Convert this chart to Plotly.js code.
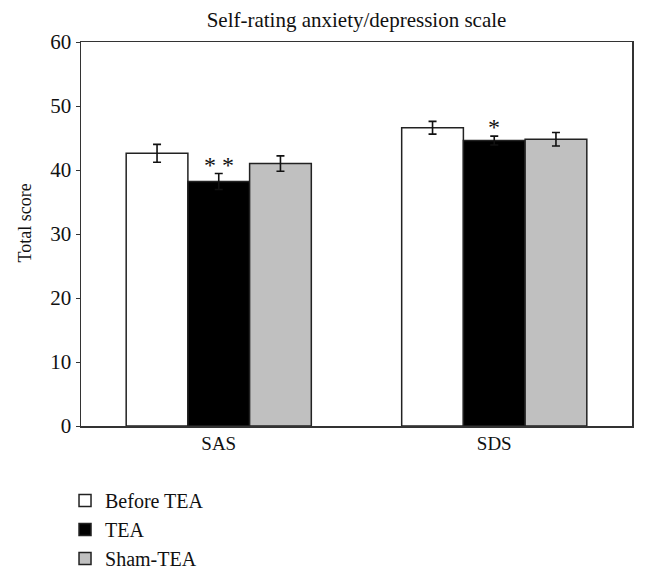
<!DOCTYPE html>
<html>
<head>
<meta charset="utf-8">
<script src="https://cdn.plot.ly/plotly-3.0.1.min.js"></script>
<style>html,body{margin:0;padding:0;background:#fff}#chart{width:646px;height:577px}</style>
</head>
<body>
<div id="chart"></div>
<script>
const categories = ["SAS", "SDS"];
const seriesNames = ["Before TEA", "TEA", "Sham-TEA"];
const beforeTEA = [42.6, 46.6];
const beforeTEAErr = [1.4, 1.0];
const tea = [38.2, 44.6];
const teaErr = [1.25, 0.7];
const shamTEA = [41.0, 44.8];
const shamTEAErr = [1.2, 1.05];
const significance = ["* *", "*"];
const yTicks = [0, 10, 20, 30, 40, 50, 60];
const yTitle = "Total score";

const FONT = "Liberation Serif, Times New Roman, serif";
const fills = ["#ffffff", "#000000", "#c0c0c0"];
const values = [beforeTEA, tea, shamTEA];
const errs = [beforeTEAErr, teaErr, shamTEAErr];

const traces = seriesNames.map((name, i) => ({
  type: "bar",
  name: name,
  x: categories,
  y: values[i],
  marker: { color: fills[i], line: { color: "#222", width: 1.5 } },
  error_y: { type: "data", array: errs[i], visible: true, color: "#111", thickness: 1.6, width: 4 },
  hoverinfo: "skip"
}));

const annotations = categories.map((c, j) => ({
  x: c, xref: "x",
  y: tea[j] + teaErr[j], yref: "y",
  text: significance[j],
  showarrow: false,
  yanchor: "bottom",
  yshift: -6,
  font: { family: FONT, size: 24, color: "#111" }
}));
annotations.push({
  xref: "paper", yref: "paper",
  x: -0.1, y: 0.53,
  xanchor: "center", yanchor: "middle",
  text: yTitle, textangle: -90, showarrow: false,
  font: { family: FONT, size: 18, color: "#111" }
});

const layout = {
  width: 646, height: 577,
  paper_bgcolor: "#fff", plot_bgcolor: "#fff",
  margin: { l: 81, r: 14, t: 42, b: 151, autoexpand: false },
  font: { family: FONT, color: "#111" },
  title: {
    text: "Self-rating anxiety/depression scale",
    x: 0.5, xref: "paper", xanchor: "center",
    y: 1 - 20 / 577, yref: "container", yanchor: "middle",
    font: { family: FONT, size: 21, color: "#111" }
  },
  barmode: "group",
  bargap: 0.328,
  bargroupgap: 0,
  xaxis: {
    type: "category",
    range: [-0.5, 1.5],
    showline: true, mirror: true, linecolor: "#333", linewidth: 1.5,
    ticks: "", showgrid: false, zeroline: false, automargin: false,
    tickfont: { family: FONT, size: 19, color: "#111" }
  },
  yaxis: {
    range: [0, 60],
    tickvals: yTicks,
    ticks: "outside", ticklen: 4, tickcolor: "#333", tickwidth: 1,
    showline: true, mirror: true, linecolor: "#333", linewidth: 1.5,
    showgrid: false, zeroline: false, automargin: false,
    tickfont: { family: FONT, size: 21, color: "#111" }
  },
  legend: {
    x: -0.029, xanchor: "left", xref: "paper",
    y: -0.143, yanchor: "top",
    orientation: "v",
    traceorder: "normal",
    font: { family: FONT, size: 20, color: "#111" },
    bgcolor: "rgba(0,0,0,0)",
    itemclick: false
  },
  annotations: annotations,
  showlegend: true
};

Plotly.newPlot("chart", traces, layout, { displayModeBar: false, staticPlot: true });
</script>
</body>
</html>
